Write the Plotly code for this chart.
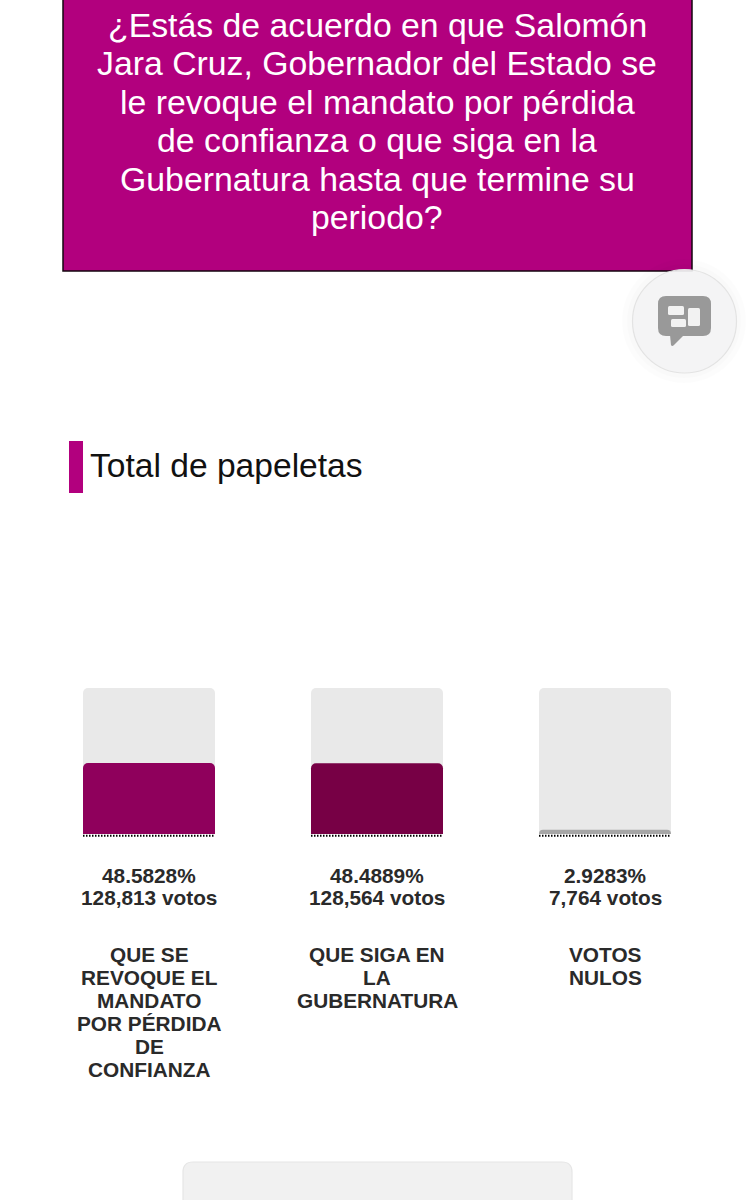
import plotly.graph_objects as go

W = 755
H = 1200

categories = ["QUE SE REVOQUE EL MANDATO", "QUE SIGA EN LA GUBERNATURA", "VOTOS NULOS"]
percent = [48.5828, 48.4889, 2.9283]
votes = [128813, 128564, 7764]
track = [100, 100, 100]
bar_colors = ["#8f005c", "#770045", "#a6a6a6"]
label_lines = [
    ["QUE SE", "REVOQUE EL", "MANDATO", "POR PÉRDIDA", "DE", "CONFIANZA"],
    ["QUE SIGA EN", "LA", "GUBERNATURA"],
    ["VOTOS", "NULOS"],
]
question_lines = [
    "¿Estás de acuerdo en que Salomón",
    "Jara Cruz, Gobernador del Estado se",
    "le revoque el mandato por pérdida",
    "de confianza o que siga en la",
    "Gubernatura hasta que termine su",
    "periodo?",
]
section_title = "Total de papeletas"

FONT = "Liberation Sans, Arial, sans-serif"
MAGENTA = "#b2007e"
TEXT = "#2a2a2a"


def px(x):
    return x / W


def py(y):
    return 1 - y / H


def box(x0, y0, x1, y1, fill, line=None, lw=0, kind="rect"):
    return dict(type=kind, xref="paper", yref="paper", x0=px(x0), x1=px(x1), y0=py(y0), y1=py(y1),
                fillcolor=fill, line=dict(color=line, width=lw), layer="above")


def round_path(x0, y0, x1, y1, r):
    a, b, c, d = px(x0), px(x1), py(y0), py(y1)
    rx, ry = r / W, r / H
    return (f"M {a+rx} {c} L {b-rx} {c} Q {b} {c} {b} {c-ry} L {b} {d+ry} Q {b} {d} {b-rx} {d} "
            f"L {a+rx} {d} Q {a} {d} {a} {d+ry} L {a} {c-ry} Q {a} {c} {a+rx} {c} Z")


def path(d, fill, line=None, lw=0):
    return dict(type="path", xref="paper", yref="paper", path=d, fillcolor=fill,
                line=dict(color=line, width=lw), layer="above")


def text_at(x, y, s, size, color, xanchor="center", xref="paper"):
    return dict(x=px(x) if xref == "paper" else x, y=py(y), xref=xref, yref="paper", text=s, showarrow=False,
                xanchor=xanchor, yanchor="middle", font=dict(family=FONT, size=size, color=color))


fig = go.Figure()
idx = list(range(len(categories)))
fig.add_trace(go.Bar(x=idx, y=track, marker=dict(color="#e9e9e9", line_width=0), hoverinfo="skip"))
# en otro eje y, si no plotly quita el redondeo a la barra de abajo
fig.add_trace(go.Bar(x=idx, y=percent, yaxis="y2", marker=dict(color=bar_colors, line_width=0), hoverinfo="skip"))

shapes = []
# encabezado
shapes.append(box(63, -10, 692, 271, MAGENTA, "#14060f", 1.5))
# boton flotante
shapes.append(box(622, 259, 746, 383, "rgba(0,0,0,0.012)", kind="circle"))
shapes.append(box(627, 264, 741, 378, "rgba(0,0,0,0.012)", kind="circle"))
shapes.append(box(632.5, 269.5, 736.5, 373, "rgba(243,243,244,0.93)", "#e3e3e3", 1.2, kind="circle"))
shapes.append(path(round_path(658, 296, 711, 336, 8), "#999999"))
shapes.append(path(f"M {px(670)} {py(335)} L {px(671)} {py(345)} Q {px(672)} {py(347)} {px(674)} {py(345)} L {px(684)} {py(335)} Z", "#999999"))
shapes.append(path(round_path(668, 306, 684, 315, 1.5), "#f2f2f2"))
shapes.append(path(round_path(671, 319, 686, 327, 1.5), "#f2f2f2"))
shapes.append(path(round_path(688, 308, 700, 326, 1.5), "#f2f2f2"))
# titulo de seccion
shapes.append(box(69, 441, 83, 493, MAGENTA))
# tarjeta inferior
shapes.append(path(round_path(183, 1162, 572, 1215, 10), "#f1f1f1", "#e6e6e6", 1.2))
# linea punteada bajo cada barra
half = 132 / 228 / 2
for i in idx:
    shapes.append(dict(type="line", xref="x", yref="y", x0=i - half, x1=i + half, y0=-1.2, y1=-1.2,
                       line=dict(color="#000000", width=2, dash="1.5px,1.5px")))

notes = []
for i, line in enumerate(question_lines):
    notes.append(text_at(377, 25 + i * 38.4, line, 33.8, "#ffffff"))
notes.append(text_at(88, 466, section_title, 33.6, "#111111", xanchor="left"))
for i in idx:
    notes.append(text_at(i, 875, f"{percent[i]:.4f}%", 20.8, TEXT, xref="x"))
    notes.append(text_at(i, 897.5, f"{votes[i]:,} votos", 20.8, TEXT, xref="x"))
    for j, line in enumerate(label_lines[i]):
        notes.append(text_at(i, 954.8 + j * 22.9, line, 20.8, TEXT, xref="x"))
for n in notes:
    if n["font"]["color"] == TEXT:
        n["text"] = "<b>" + n["text"] + "</b>"

y_domain = [py(838), py(688)]
y_range = [-4 / 1.46, 100]
fig.update_layout(
    width=W, height=H, margin=dict(l=0, r=0, t=0, b=0),
    paper_bgcolor="#ffffff", plot_bgcolor="#ffffff",
    barmode="group", bargap=1 - 132 / 228, barcornerradius=5, showlegend=False,
    xaxis=dict(domain=[35 / W, 719 / W], range=[-0.5, 2.5], visible=False, fixedrange=True),
    # rango con margen bajo cero para que la linea punteada no se recorte
    yaxis=dict(domain=y_domain, range=y_range, visible=False, fixedrange=True),
    yaxis2=dict(domain=y_domain, range=y_range, visible=False, fixedrange=True, overlaying="y"),
    shapes=shapes, annotations=notes,
)

fig.write_html("out.html", config={"displayModeBar": False},
               post_script="document.body.style.margin='0';document.body.style.overflow='hidden';")
